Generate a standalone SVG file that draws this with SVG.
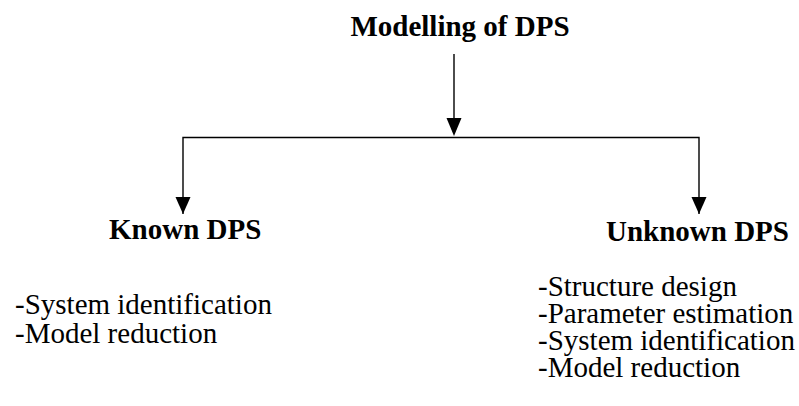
<svg xmlns="http://www.w3.org/2000/svg" width="799" height="406" viewBox="0 0 799 406">
<defs>
<style>
.t{font-family:"Liberation Serif","Times New Roman",serif;fill:#000}
.h{font-weight:bold;font-size:29px}
.b{font-size:29px}
.c{stroke:#000;stroke-width:1.4;fill:none}
</style>
<marker id="ah" markerUnits="userSpaceOnUse" markerWidth="16" markerHeight="18" refX="8" refY="17" orient="auto" viewBox="0 0 16 18">
<path d="M0,0 L16,0 L8,17 Z" fill="#000" transform="rotate(-90 8 8.5) translate(0,0)"/>
</marker>
</defs>
<rect width="799" height="406" fill="#fff"/>
<g id="connectors">
<line class="c" x1="454" y1="54" x2="454" y2="120"/>
<path d="M446.5,118 L461.5,118 L454,136 Z" fill="#000"/>
<polyline class="c" points="183,214 183,137.5 699,137.5 699,214"/>
<path d="M175.5,197 L190.5,197 L183,214 Z" fill="#000"/>
<path d="M691.5,197 L706.5,197 L699,214 Z" fill="#000"/>
</g>
<g id="root"><text class="t h" x="460" y="36" text-anchor="middle">Modelling of DPS</text></g>
<g id="known">
<text class="t h" x="109" y="239">Known DPS</text>
<text class="t b" x="15" y="314">-System identification</text>
<text class="t b" x="15" y="343">-Model reduction</text>
</g>
<g id="unknown">
<text class="t h" x="606" y="241">Unknown DPS</text>
<text class="t b" x="538" y="296">-Structure design</text>
<text class="t b" x="538" y="323">-Parameter estimation</text>
<text class="t b" x="538" y="350">-System identification</text>
<text class="t b" x="538" y="377">-Model reduction</text>
</g>
</svg>
